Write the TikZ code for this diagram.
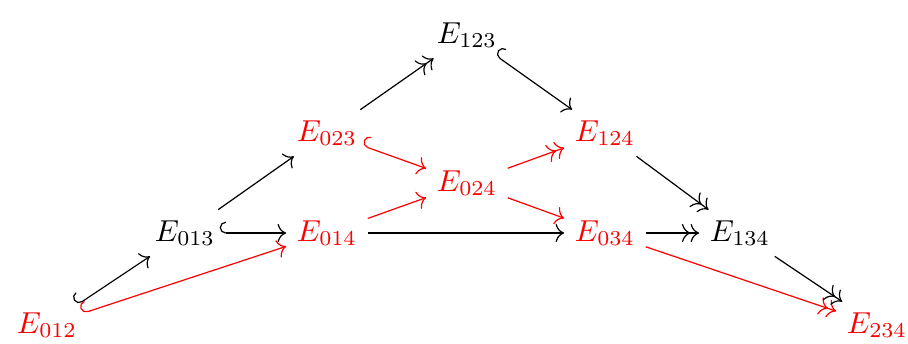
\documentclass[tikz,border=0pt]{standalone}
\usetikzlibrary{arrows.meta}
\tikzset{
  to/.style={-{Computer Modern Rightarrow[scale=1.15]}},
  epi/.style={-{Computer Modern Rightarrow[scale=1.15]Computer Modern Rightarrow[scale=1.15]}},
  mono/.style={{Hooks[harpoon,swap,length=2pt,width=7.5pt]}-{Computer Modern Rightarrow[scale=1.15]}, shorten <=-2pt},
  face/.style={red}
}
\begin{document}
\begin{tikzpicture}
\useasboundingbox (0,0) rectangle (10.533,3.979);
\node (e123) at (5.417,3.573) {$E_{123}$};
\node[face] (e023) at (3.793,2.436) {$E_{023}$};
\node[face] (e124) at (7.018,2.436) {$E_{124}$};
\node[face] (e024) at (5.417,1.856) {$E_{024}$};
\node (e013) at (2.146,1.276) {$E_{013}$};
\node[face] (e014) at (3.793,1.276) {$E_{014}$};
\node[face] (e034) at (7.018,1.276) {$E_{034}$};
\node (e134) at (8.584,1.276) {$E_{134}$};
\node[face] (e012) at (0.545,0.209) {$E_{012}$};
\node[face] (e234) at (10.173,0.209) {$E_{234}$};
\draw[mono] (e012) -- (e013);
\draw[mono, face] (e012) -- (e014);
\draw[mono] (e013) -- (e014);
\draw[to] (e013) -- (e023);
\draw[epi] (e023) -- (e123);
\draw[mono, face] (e023) -- (e024);
\draw[to, face] (e014) -- (e024);
\draw[to] (e014) -- (e034);
\draw[epi, face] (e024) -- (e124);
\draw[to, face] (e024) -- (e034);
\draw[mono] (e123) -- (e124);
\draw[epi] (e124) -- (e134);
\draw[epi] (e034) -- (e134);
\draw[epi, face] (e034) -- (e234);
\draw[epi] (e134) -- (e234);
\end{tikzpicture}
\end{document}
